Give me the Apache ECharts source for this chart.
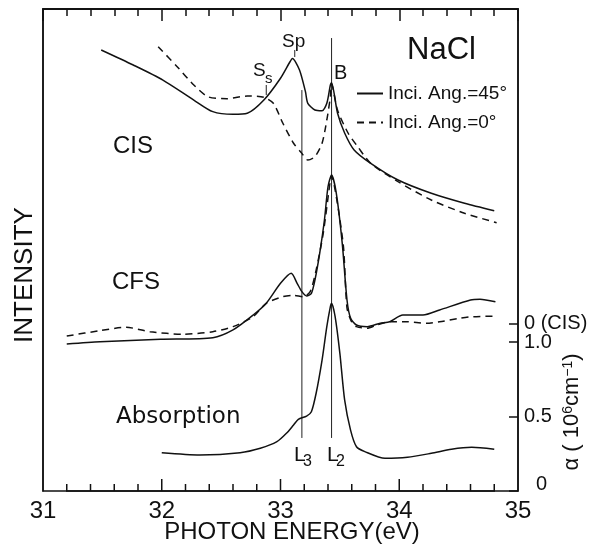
<!DOCTYPE html>
<html>
<head>
<meta charset="utf-8">
<title>NaCl</title>
<script src="https://cdn.jsdelivr.net/npm/echarts@6.0.0/dist/echarts.min.js"></script>
<style>
html, body { margin: 0; padding: 0; background: #fff; }
#main { width: 598px; height: 544px; }
</style>
</head>
<body>
<div id="main"></div>
<script>
// photon energy (eV) and intensity, all on the alpha scale of the right axis
var cisSolidE = [31.49, 31.76, 32.01, 32.27, 32.43, 32.60, 32.72, 32.86, 33.00, 33.08, 33.10, 33.16, 33.21, 33.23, 33.29, 33.35, 33.39, 33.42, 33.43, 33.48, 33.54, 33.62, 33.76, 33.99, 34.27, 34.55, 34.80];
var cisSolidI = [2.960, 2.859, 2.758, 2.624, 2.546, 2.528, 2.535, 2.624, 2.770, 2.881, 2.903, 2.826, 2.680, 2.602, 2.557, 2.552, 2.602, 2.725, 2.740, 2.537, 2.403, 2.289, 2.199, 2.087, 1.998, 1.931, 1.881];

var cisDashE = [31.97, 32.13, 32.27, 32.39, 32.55, 32.72, 32.86, 32.94, 33.02, 33.11, 33.18, 33.23, 33.29, 33.35, 33.39, 33.42, 33.43, 33.48, 33.57, 33.65, 33.76, 33.99, 34.27, 34.55, 34.82];
var cisDashI = [2.982, 2.848, 2.725, 2.646, 2.633, 2.651, 2.642, 2.602, 2.468, 2.334, 2.266, 2.221, 2.244, 2.334, 2.490, 2.646, 2.732, 2.557, 2.401, 2.311, 2.199, 2.076, 1.953, 1.864, 1.801];

var cfsSolidE = [31.20, 31.48, 31.99, 32.43, 32.60, 32.77, 32.88, 33.00, 33.09, 33.14, 33.18, 33.22, 33.26, 33.29, 33.33, 33.37, 33.40, 33.43, 33.47, 33.52, 33.56, 33.59, 33.64, 33.73, 33.84, 33.92, 34.03, 34.20, 34.34, 34.60, 34.68, 34.81];
var cfsSolidI = [0.987, 1.002, 1.018, 1.029, 1.081, 1.181, 1.260, 1.394, 1.461, 1.394, 1.338, 1.309, 1.327, 1.416, 1.595, 1.819, 2.042, 2.121, 1.998, 1.662, 1.282, 1.161, 1.114, 1.103, 1.126, 1.136, 1.181, 1.181, 1.215, 1.282, 1.287, 1.270];

var cfsDashE = [31.20, 31.48, 31.70, 31.90, 32.18, 32.43, 32.60, 32.77, 32.88, 33.02, 33.11, 33.19, 33.25, 33.30, 33.36, 33.42, 33.43, 33.47, 33.53, 33.56, 33.60, 33.64, 33.73, 33.81, 33.92, 34.06, 34.23, 34.34, 34.51, 34.62, 34.81];
var cfsDashI = [1.040, 1.076, 1.099, 1.069, 1.052, 1.069, 1.103, 1.170, 1.260, 1.304, 1.313, 1.304, 1.338, 1.483, 1.730, 2.087, 2.114, 1.975, 1.640, 1.228, 1.134, 1.103, 1.092, 1.114, 1.136, 1.136, 1.126, 1.136, 1.159, 1.170, 1.174];

var absE = [32.00, 32.32, 32.66, 32.83, 32.97, 33.05, 33.11, 33.15, 33.22, 33.26, 33.30, 33.35, 33.39, 33.42, 33.43, 33.46, 33.50, 33.54, 33.59, 33.64, 33.71, 33.88, 34.07, 34.27, 34.44, 34.61, 34.80];
var absAlpha = [0.257, 0.242, 0.257, 0.287, 0.331, 0.387, 0.443, 0.481, 0.503, 0.532, 0.656, 0.879, 1.103, 1.237, 1.260, 1.170, 0.924, 0.611, 0.409, 0.297, 0.264, 0.219, 0.226, 0.253, 0.280, 0.293, 0.280];

// marker lines: energy, from, to
var markerE = [33.18, 33.43, 33.12, 32.88];
var markerFrom = [0.356, 0.356, 2.913, 2.658];
var markerTo = [2.691, 3.040, 2.960, 2.725];

var xMin = 31, xMax = 35, majorStep = 1, minorStep = 0.2;
var yMax = 3.235;
var alphaTicks = [0, 0.5, 1.0];
var cisZero = [1.121];
var legendNames = ['Inci. Ang.=45°', 'Inci. Ang.=0°'];

var gridLeft = 43, gridRight = 80, gridTop = 9, gridBottom = 53;
var W = 598, H = 544;

function pairs(e, v) {
  var out = [];
  for (var i = 0; i < e.length; i++) out.push([e[i], v[i]]);
  return out;
}

function curve(name, e, v, dashed) {
  return {
    name: name,
    type: 'line',
    data: pairs(e, v),
    smooth: 0.25,
    symbol: 'none',
    silent: true,
    z: 3,
    itemStyle: { color: '#111' },
    lineStyle: { color: '#111', width: 1.5, type: dashed ? [7, 5] : 'solid' }
  };
}

var series = [
  curve(legendNames[0], cisSolidE, cisSolidI, false),
  curve(legendNames[1], cisDashE, cisDashI, true),
  curve(legendNames[0], cfsSolidE, cfsSolidI, false),
  curve(legendNames[1], cfsDashE, cfsDashI, true),
  curve('Absorption', absE, absAlpha, false)
];
for (var k = 0; k < markerE.length; k++) {
  series.push({
    type: 'line',
    data: [[markerE[k], markerFrom[k]], [markerE[k], markerTo[k]]],
    symbol: 'none',
    silent: true,
    z: 2,
    lineStyle: { color: '#222', width: 1 }
  });
}

var T = 'Liberation Sans';

function xAxisDef(pos, step, len, labels) {
  return {
    type: 'value', min: xMin, max: xMax, interval: step, position: pos,
    axisLine: { show: !labels, onZero: false, lineStyle: { color: '#111', width: 1.5 } },
    axisTick: { show: !labels, inside: true, length: len, lineStyle: { color: '#111', width: 1.5 } },
    splitLine: { show: false },
    axisLabel: { show: labels, fontSize: 24, fontFamily: T, color: '#111', margin: 8 }
  };
}

function rightAxis(values, line) {
  return {
    type: 'value', min: 0, max: yMax, position: 'right',
    axisLine: { show: line, onZero: false, lineStyle: { color: '#111', width: 1.5 } },
    axisTick: { show: true, inside: true, length: 9, lineStyle: { color: '#111', width: 1.5 }, customValues: values },
    splitLine: { show: false },
    axisLabel: {
      show: true, margin: 6, fontSize: 20, fontFamily: T, color: '#111',
      customValues: values,
      formatter: function (v) {
        if (!line) return '0 (CIS)';
        if (v === 0) return '{z|0}';
        return v.toFixed(1);
      },
      rich: { z: { fontSize: 20, fontFamily: T, color: '#111', padding: [0, 0, 14, 12] } }
    }
  };
}

function txt(s, x, y, size, fam, rot) {
  return {
    type: 'text', x: x, y: y, rotation: rot || 0, silent: true,
    style: {
      text: s, fontSize: size, fontFamily: fam || T, fill: '#111',
      textAlign: rot ? 'center' : 'left', textVerticalAlign: 'middle',
      align: rot ? 'center' : 'left', verticalAlign: 'middle'
    }
  };
}

var labels = [
  txt('NaCl', 407, 50, 31),
  txt('CIS', 113, 146, 24),
  txt('CFS', 112, 282, 24),
  txt('Absorption', 116, 417, 23, 'DejaVu Sans'),
  txt('Sp', 282, 42, 19),
  txt('S', 253, 71, 19),
  txt('s', 265, 79, 15),
  txt('B', 334, 73, 20),
  txt('L', 294, 455, 21),
  txt('3', 303, 462, 16),
  txt('L', 327, 455, 21),
  txt('2', 336, 462, 16),
  txt('INTENSITY', 25, 275, 26, T, Math.PI / 2),
  txt('PHOTON ENERGY(eV)', 292, 532, 24, T, 0.0001),
  {
    type: 'text', x: 572, y: 412, rotation: Math.PI / 2, silent: true,
    style: {
      text: '{a|α ( 10}{s|6}{a|cm}{s|−1}{a|)}',
      textAlign: 'center', textVerticalAlign: 'middle', align: 'center', verticalAlign: 'middle',
      rich: {
        a: { fontSize: 22, fontFamily: T, fill: '#111', color: '#111' },
        s: { fontSize: 14, fontFamily: T, fill: '#111', color: '#111', verticalAlign: 'top' }
      }
    }
  }
];

var chart = echarts.init(document.getElementById('main'), null, { renderer: 'canvas' });
chart.setOption({
  animation: false,
  backgroundColor: '#fff',
  grid: { left: gridLeft, right: gridRight, top: gridTop, bottom: gridBottom, containLabel: false, show: true, borderColor: '#111', borderWidth: 1.5, backgroundColor: 'transparent' },
  xAxis: [
    xAxisDef('bottom', majorStep, 0, true),
    xAxisDef('top', majorStep, 12, false),
    xAxisDef('top', minorStep, 7, false)
  ],
  yAxis: [
    {
      type: 'value', min: 0, max: yMax, position: 'left',
      axisLine: { show: true, onZero: false, lineStyle: { color: '#111', width: 1.5 } },
      axisTick: { show: false }, axisLabel: { show: false }, splitLine: { show: false }
    },
    rightAxis(alphaTicks, true),
    rightAxis(cisZero, false)
  ],
  legend: {
    data: legendNames,
    orient: 'vertical',
    left: 356, top: 84,
    padding: 0,
    itemWidth: 26, itemHeight: 12, itemGap: 10,
    selectedMode: false,
    itemStyle: { color: 'transparent', borderWidth: 0, opacity: 0 },
    textStyle: { fontSize: 19, fontFamily: T, color: '#111' }
  },
  series: series
});

// inward ticks on the bottom edge, placed through the x scale
function toPx(v) {
  var p = chart.convertToPixel({ xAxisIndex: 0 }, v);
  if (typeof p !== 'number' || !isFinite(p)) {
    p = gridLeft + (v - xMin) / (xMax - xMin) * (W - gridLeft - gridRight);
  }
  return p;
}
var yBase = chart.convertToPixel({ yAxisIndex: 0 }, 0);
if (typeof yBase !== 'number' || !isFinite(yBase)) yBase = H - gridBottom;

var tickPts = [];
var n = Math.round((xMax - xMin) / minorStep);
for (var i = 1; i < n; i++) {
  var v = +(xMin + i * minorStep).toFixed(2);
  var len = i % Math.round(majorStep / minorStep) === 0 ? 12 : 7;
  var px = toPx(v);
  tickPts.push([px, yBase], [px, yBase - len], [px, yBase]);
}

chart.setOption({
  graphic: labels.concat([{
    type: 'polyline', silent: true, zlevel: 1, z: 100,
    shape: { points: tickPts },
    style: { stroke: '#111', lineWidth: 1.5, fill: null }
  }])
});
</script>
</body>
</html>
